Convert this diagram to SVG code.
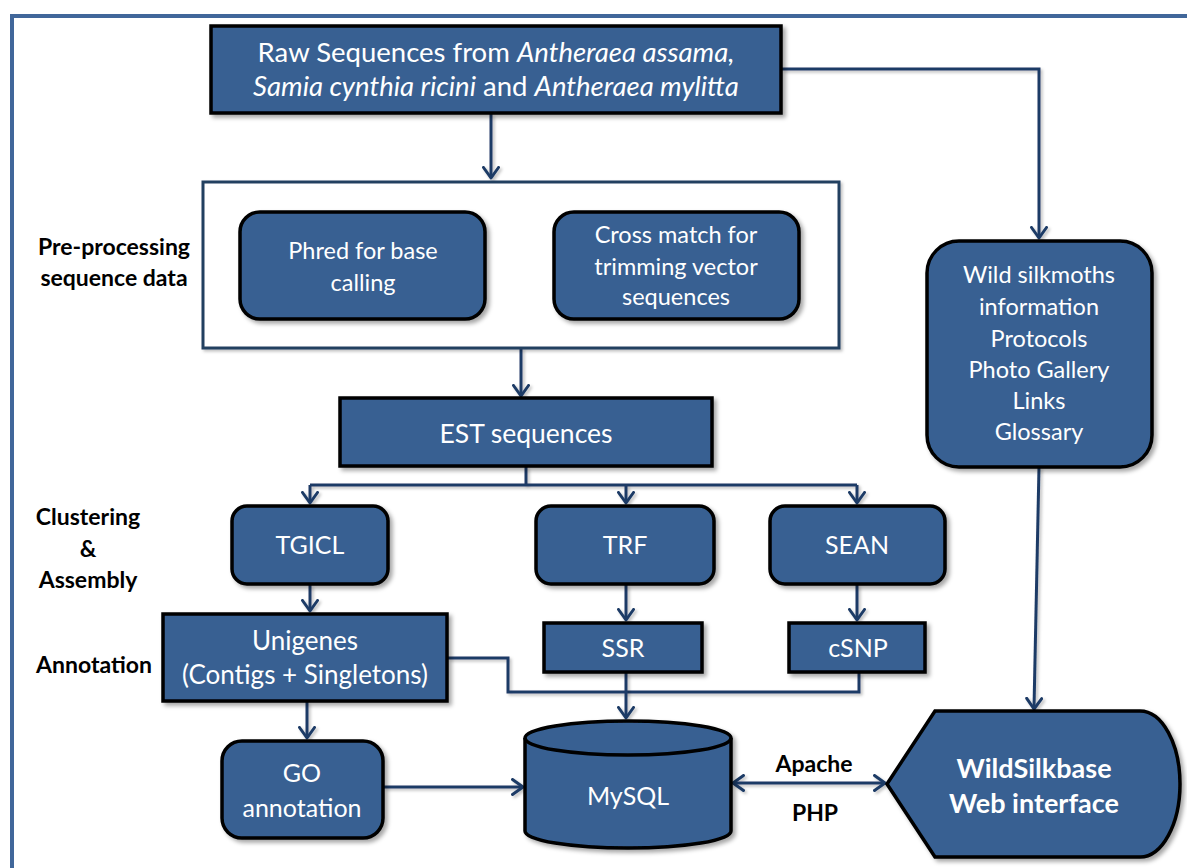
<svg xmlns="http://www.w3.org/2000/svg" width="1187" height="868" viewBox="0 0 1187 868">
<defs>
<filter id="sh" x="-10%" y="-10%" width="130%" height="130%">
<feDropShadow dx="3" dy="3" stdDeviation="2" flood-color="#000" flood-opacity="0.35"/>
</filter>
<filter id="lsh" filterUnits="userSpaceOnUse" x="0" y="0" width="1187" height="868">
<feDropShadow dx="2" dy="2" stdDeviation="1.5" flood-color="#000" flood-opacity="0.25"/>
</filter>
<marker id="ah" viewBox="0 0 14 18" refX="12" refY="9" markerWidth="14" markerHeight="18" markerUnits="userSpaceOnUse" orient="auto-start-reverse">
<path d="M1.5,1.5 L12,9 L1.5,16.5" fill="none" stroke="#1f3b66" stroke-width="3" stroke-linecap="round" stroke-linejoin="round"/>
</marker>
</defs>
<style>
.n{fill:#376092;stroke:#000;stroke-width:3.5;filter:url(#sh)}
.t{font-family:Lato,"Open Sans","Liberation Sans",sans-serif;fill:#fff;text-anchor:middle}
.b{font-family:Lato,"Liberation Sans",sans-serif;font-weight:bold;fill:#000;text-anchor:middle;font-size:23px}
.c{fill:none;stroke:#1f3b66;stroke-width:3;filter:url(#lsh)}
</style>
<rect width="1187" height="868" fill="#fff"/>
<path d="M12,868 L12,16 L1187,16" fill="none" stroke="#41679a" stroke-width="4"/>

<g id="connectors">
<path class="c" d="M491,114 L491,178" marker-end="url(#ah)"/>
<path class="c" d="M782,69 L1039,69 L1039,238" marker-end="url(#ah)"/>
<path class="c" d="M521,348 L521,396" marker-end="url(#ah)"/>
<path class="c" d="M526,467 L526,485"/>
<path class="c" d="M310,485 L857,485"/>
<path class="c" d="M310,485 L310,503" marker-end="url(#ah)"/>
<path class="c" d="M626,485 L626,503" marker-end="url(#ah)"/>
<path class="c" d="M857,485 L857,503" marker-end="url(#ah)"/>
<path class="c" d="M310,585 L310,611" marker-end="url(#ah)"/>
<path class="c" d="M626,585 L626,620" marker-end="url(#ah)"/>
<path class="c" d="M857,585 L857,620" marker-end="url(#ah)"/>
<path class="c" d="M448,658 L508,658 L508,692 L859,692 L859,673"/>
<path class="c" d="M626,673 L626,718" marker-end="url(#ah)"/>
<path class="c" d="M307,702 L307,738" marker-end="url(#ah)"/>
<path class="c" d="M384,787 L523,787" marker-end="url(#ah)"/>
<path class="c" d="M733,783 L885,783" marker-start="url(#ah)" marker-end="url(#ah)"/>
<path class="c" d="M1039,467 L1034,709" marker-end="url(#ah)"/>
</g>

<g id="raw">
<rect class="n" x="211" y="26" width="570" height="87"/>
<text class="t" font-size="27.5" x="496" y="62">Raw Sequences from <tspan font-style="italic">Antheraea assama,</tspan></text>
<text class="t" font-size="27.5" x="496" y="96"><tspan font-style="italic">Samia cynthia ricini</tspan> and <tspan font-style="italic">Antheraea mylitta</tspan></text>
</g>

<g id="preprocessing">
<rect x="203" y="182" width="636" height="166" fill="#fff" stroke="#243f60" stroke-width="3" filter="url(#lsh)"/>
</g>

<g id="preprocessing-label">
<text class="b" x="114" y="255">Pre-processing</text>
<text class="b" x="114" y="286">sequence data</text>
</g>

<g id="phred">
<rect class="n" x="240" y="212" width="245" height="107" rx="20"/>
<text class="t" font-size="23.5" x="363" y="259">Phred for base</text>
<text class="t" font-size="23.5" x="363" y="291">calling</text>
</g>

<g id="crossmatch">
<rect class="n" x="554" y="212" width="245" height="107" rx="20"/>
<text class="t" font-size="23.5" x="676" y="243">Cross match for</text>
<text class="t" font-size="23.5" x="676" y="275">trimming vector</text>
<text class="t" font-size="23.5" x="676" y="305">sequences</text>
</g>

<g id="est">
<rect class="n" x="340" y="398" width="372" height="68"/>
<text class="t" font-size="26.5" x="526" y="443">EST sequences</text>
</g>

<g id="clustering-label">
<text class="b" x="88" y="525">Clustering</text>
<text class="b" x="88" y="557">&amp;</text>
<text class="b" x="88" y="588">Assembly</text>
</g>

<g id="tgicl">
<rect class="n" x="232" y="506" width="156" height="78" rx="15"/>
<text class="t" font-size="25" x="310" y="554">TGICL</text>
</g>

<g id="trf">
<rect class="n" x="536" y="506" width="178" height="78" rx="15"/>
<text class="t" font-size="25" x="625" y="554">TRF</text>
</g>

<g id="sean">
<rect class="n" x="770" y="506" width="175" height="78" rx="15"/>
<text class="t" font-size="25" x="857" y="554">SEAN</text>
</g>

<g id="annotation-label">
<text class="b" x="94" y="673">Annotation</text>
</g>

<g id="unigenes">
<rect class="n" x="163" y="614" width="284" height="87"/>
<text class="t" font-size="26" x="305" y="650">Unigenes</text>
<text class="t" font-size="26" x="305" y="684">(Contigs + Singletons)</text>
</g>

<g id="ssr">
<rect class="n" x="544" y="623" width="158" height="49"/>
<text class="t" font-size="25" x="623" y="657">SSR</text>
</g>

<g id="csnp">
<rect class="n" x="789" y="623" width="136" height="49"/>
<text class="t" font-size="25" x="858" y="657">cSNP</text>
</g>

<g id="go">
<rect class="n" x="222" y="741" width="161" height="97" rx="20"/>
<text class="t" font-size="25" x="302" y="782">GO</text>
<text class="t" font-size="25" x="302" y="817">annotation</text>
</g>

<g id="mysql">
<path class="n" d="M525,738 A103,17 0 0 1 731,738 L731,831 A103,17 0 0 1 525,831 Z"/>
<path d="M525,738 A103,17 0 0 0 731,738" fill="none" stroke="#000" stroke-width="3.5"/>
<text class="t" font-size="25" x="628" y="805">MySQL</text>
</g>

<g id="apache-php">
<text class="b" x="814" y="772">Apache</text>
<text class="b" x="815" y="821">PHP</text>
</g>

<g id="wildinfo">
<rect class="n" x="927" y="241" width="225" height="226" rx="32"/>
<text class="t" font-size="23.5" x="1039" y="283">Wild silkmoths</text>
<text class="t" font-size="23.5" x="1039" y="315">information</text>
<text class="t" font-size="23.5" x="1039" y="347">Protocols</text>
<text class="t" font-size="23.5" x="1039" y="378">Photo Gallery</text>
<text class="t" font-size="23.5" x="1039" y="409">Links</text>
<text class="t" font-size="23.5" x="1039" y="440">Glossary</text>
</g>

<g id="wildsilkbase">
<path class="n" d="M887,784 L935,711 L1140,711 A40,73 0 0 1 1140,857 L935,857 Z"/>
<text class="t" font-size="27" font-weight="bold" x="1034" y="778">WildSilkbase</text>
<text class="t" font-size="27" font-weight="bold" x="1034" y="813">Web interface</text>
</g>
</svg>
